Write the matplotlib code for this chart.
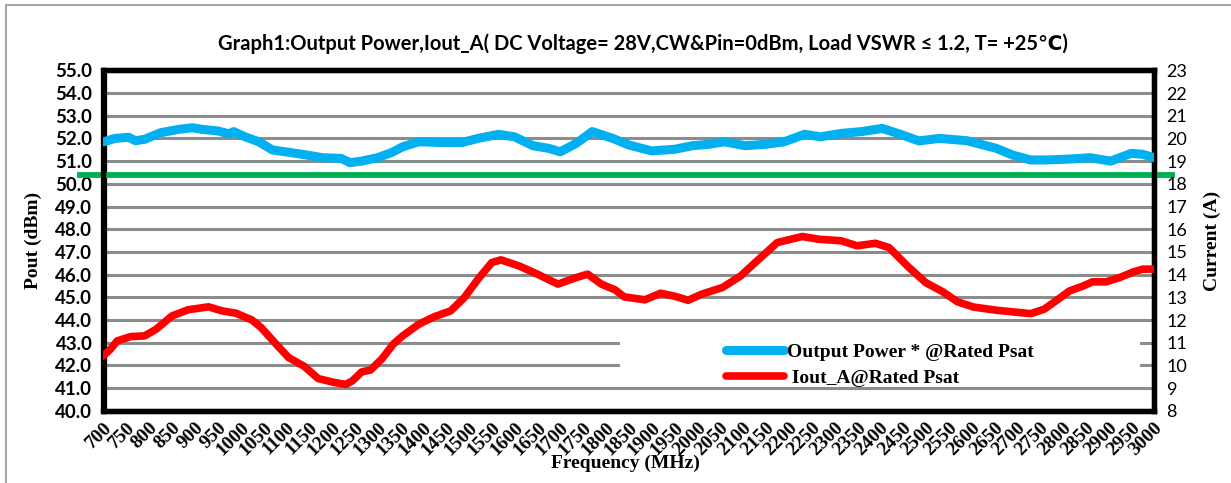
import numpy as np
import matplotlib
matplotlib.use("Agg")
import matplotlib.pyplot as plt
from matplotlib.patches import Rectangle
from matplotlib.lines import Line2D

# Output power readings (MHz, dBm)
pout_freq = [700, 725, 755, 770, 790, 825, 865, 895, 915, 950, 975, 985, 1010,
             1040, 1070, 1105, 1135, 1180, 1220, 1240, 1265, 1300, 1330, 1355,
             1390, 1440, 1485, 1520, 1565, 1600, 1640, 1675, 1700, 1735, 1770,
             1815, 1850, 1900, 1950, 1990, 2025, 2060, 2105, 2150, 2190, 2235,
             2270, 2315, 2360, 2405, 2445, 2485, 2530, 2590, 2655, 2690, 2730,
             2765, 2815, 2860, 2905, 2950, 2975, 3000]
pout_dbm = [51.85, 52.0, 52.05, 51.9, 51.96, 52.25, 52.4, 52.47, 52.4, 52.33,
            52.2, 52.3, 52.07, 51.85, 51.49, 51.39, 51.3, 51.15, 51.12, 50.93,
            51.0, 51.15, 51.37, 51.63, 51.85, 51.82, 51.82, 52.0, 52.18, 52.07,
            51.68, 51.56, 51.41, 51.78, 52.3, 52.0, 51.71, 51.45, 51.52, 51.68,
            51.74, 51.85, 51.68, 51.74, 51.85, 52.18, 52.07, 52.22, 52.3, 52.44,
            52.18, 51.89, 52.0, 51.9, 51.56, 51.27, 51.05, 51.05, 51.09, 51.15,
            51.0, 51.34, 51.3, 51.15]

# Drain current readings (MHz, A)
iout_freq = [700, 715, 730, 760, 790, 815, 850, 885, 930, 960, 990, 1025, 1045,
             1075, 1105, 1140, 1170, 1205, 1230, 1245, 1265, 1285, 1310, 1335,
             1355, 1390, 1425, 1460, 1490, 1520, 1550, 1570, 1610, 1650, 1695,
             1735, 1760, 1790, 1820, 1840, 1885, 1920, 1950, 1980, 2010, 2055,
             2095, 2135, 2175, 2230, 2265, 2315, 2350, 2390, 2420, 2460, 2500,
             2537, 2570, 2605, 2655, 2690, 2730, 2760, 2785, 2815, 2845, 2865,
             2895, 2925, 2955, 2975, 3000]
iout_a = [10.42, 10.71, 11.08, 11.27, 11.3, 11.59, 12.18, 12.45, 12.58, 12.4,
          12.3, 12.0, 11.67, 11.0, 10.35, 9.95, 9.42, 9.25, 9.16, 9.32, 9.71,
          9.8, 10.3, 10.95, 11.3, 11.81, 12.15, 12.4, 12.99, 13.8, 14.53, 14.65,
          14.38, 14.02, 13.58, 13.87, 14.02, 13.58, 13.33, 13.02, 12.89, 13.18,
          13.05, 12.87, 13.14, 13.43, 13.94, 14.68, 15.41, 15.68, 15.56, 15.49,
          15.27, 15.38, 15.19, 14.38, 13.65, 13.25, 12.8, 12.57, 12.43, 12.36,
          12.28, 12.48, 12.84, 13.28, 13.5, 13.68, 13.68, 13.87, 14.12, 14.24,
          14.24]

psat_limit = 50.37
x_ticks = list(range(700, 3001, 50))
left_ticks = np.arange(40, 55.01, 1.0)
right_ticks = list(range(8, 24))

serif = "Liberation Serif"
sans = "Lato"

W, H = 1231, 483
fig = plt.figure(figsize=(W / 100, H / 100), dpi=100)
fig.patch.set_facecolor("white")
fig.add_artist(Rectangle((6 / W, -0.05), 1.1, 1 - 5 / H + 0.05,
                         transform=fig.transFigure, fill=False,
                         edgecolor="#A6A6A6", linewidth=1.5))

ax = fig.add_axes([103.5 / W, 1 - 410.8 / H, (1154 - 103.5) / W, (410.8 - 70.3) / H])
ax2 = ax.twinx()

ax.set_xlim(700, 3000)
ax.set_ylim(40, 55)
ax2.set_ylim(8, 23)

for y in left_ticks[1:-1]:
    ax.axhline(y, color="#8C8C8C", linewidth=2.2, zorder=1)

# white block behind the legend breaks the 10 A / 11 A grid lines
x0 = 700 + (620 - 103.5) / (1154 - 103.5) * 2300
x1 = 700 + (1140 - 103.5) / (1154 - 103.5) * 2300
ax.add_patch(Rectangle((x0, 41.5), x1 - x0, 2.0, facecolor="white",
                       edgecolor="none", zorder=1.5))

ax2.plot(pout_freq, np.array(pout_dbm) - 32, color="#00B0F0", linewidth=6.5,
         solid_capstyle="round", solid_joinstyle="round", zorder=3,
         label="Output Power * @Rated Psat")
ax2.plot(iout_freq, iout_a, color="#FF0000", linewidth=5.5,
         solid_capstyle="round", solid_joinstyle="round", zorder=3,
         label=" Iout_A@Rated Psat")

ax.add_line(Line2D([-0.0224, 1.0171], [psat_limit, psat_limit], color="#00B050",
                   linewidth=4.2, clip_on=False, zorder=4,
                   transform=ax.get_yaxis_transform()))

ax.set_xticks(x_ticks)
ax.set_xticklabels([str(t) for t in x_ticks], rotation=45, ha="right",
                   rotation_mode="anchor", family=serif, fontweight="bold",
                   fontsize=14)
ax.set_yticks(left_ticks)
ax.set_yticklabels([f"{v:.1f}" for v in left_ticks], family=sans,
                   fontweight="bold", fontsize=13.5)
ax2.set_yticks(right_ticks)
ax2.set_yticklabels([str(v) for v in right_ticks], family=sans, fontsize=13)
ax.tick_params(length=0, pad=8)
ax.tick_params(axis="x", pad=6)
ax2.tick_params(length=0, pad=9)

for a in (ax, ax2):
    for s in a.spines.values():
        s.set_linewidth(3.8)
        s.set_color("black")

ax.set_ylabel("Pout (dBm)", family=serif, fontweight="bold", fontsize=14,
              labelpad=10)
ax2.set_ylabel("Current (A)", family=serif, fontweight="bold", fontsize=14,
               labelpad=12)
fig.text(625 / W, 1 - 463 / H, "Frequency (MHz)", family=serif,
         fontweight="bold", fontsize=14, ha="center", va="center")
fig.text(643 / W, 1 - 44 / H,
         "Graph1:Output Power,Iout_A( DC Voltage= 28V,CW&Pin=0dBm, Load VSWR \u2264 1.2, T= +25\u2103)",
         family=[sans, "DejaVu Sans"], fontweight="bold", fontsize=14.5,
         ha="center", va="center")

leg = ax2.legend(loc="upper left", bbox_to_anchor=(726 / W, 1 - 343 / H),
                 bbox_transform=fig.transFigure, frameon=False,
                 handlelength=3.0, borderpad=0, borderaxespad=0,
                 prop={"family": serif, "weight": "bold", "size": 14},
                 labelspacing=0.45, handletextpad=0.15)

fig.savefig("out.png", dpi=100)
